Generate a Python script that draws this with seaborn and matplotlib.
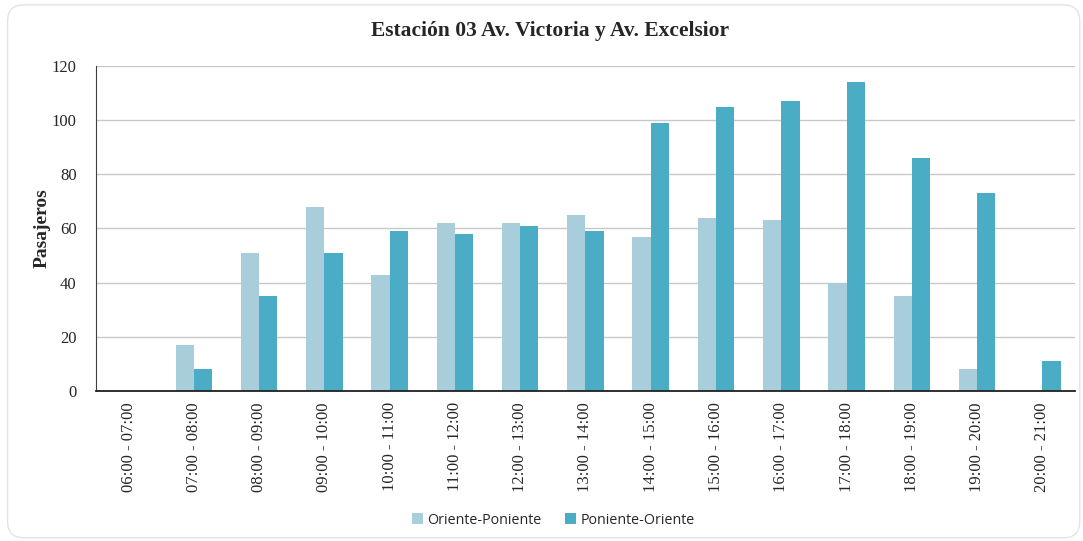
import pandas as pd
import matplotlib.pyplot as plt
import seaborn as sns
from matplotlib.patches import FancyBboxPatch

# Datos de la estación
horarios = ['06:00 - 07:00', '07:00 - 08:00', '08:00 - 09:00', '09:00 - 10:00',
            '10:00 - 11:00', '11:00 - 12:00', '12:00 - 13:00', '13:00 - 14:00',
            '14:00 - 15:00', '15:00 - 16:00', '16:00 - 17:00', '17:00 - 18:00',
            '18:00 - 19:00', '19:00 - 20:00', '20:00 - 21:00']
oriente_poniente = [0, 17, 51, 68, 43, 62, 62, 65, 57, 64, 63, 40, 35, 8, 0]
poniente_oriente = [0, 8, 35, 51, 59, 58, 61, 59, 99, 105, 107, 114, 86, 73, 11]
sentidos = ['Oriente-Poniente', 'Poniente-Oriente']
colores = ['#A8CEDC', '#4BACC6']

df = pd.DataFrame({
    'horario': horarios * 2,
    'sentido': [sentidos[0]] * len(horarios) + [sentidos[1]] * len(horarios),
    'pasajeros': oriente_poniente + poniente_oriente,
})

sns.set_style('white')
plt.rcParams['font.family'] = ['Liberation Serif', 'DejaVu Serif']

fig = plt.figure(figsize=(10.83, 5.41), dpi=100)
ax = fig.add_axes([0.0886, 0.2773, 0.904, 0.6007])

# borde redondeado de la figura
fig.patches.append(FancyBboxPatch((0.007, 0.006), 0.99, 0.985,
                                  boxstyle='round,pad=0,rounding_size=0.015',
                                  transform=fig.transFigure, fill=False,
                                  edgecolor='#E3E3E3', linewidth=1.0,
                                  mutation_aspect=2.0))

sns.barplot(data=df, x='horario', y='pasajeros', hue='sentido',
            palette=colores, width=0.56, gap=0, saturation=1, linewidth=0,
            order=horarios, hue_order=sentidos, ax=ax, legend=True)

ax.set_ylim(0, 120)
ax.set_yticks(range(0, 121, 20))
ax.set_xlim(-0.5, len(horarios) - 0.5)
ax.yaxis.grid(True, color='#C8C8C8', linewidth=1)
ax.set_axisbelow(True)
for lado in ['top', 'right']:
    ax.spines[lado].set_visible(False)
ax.spines['left'].set_color('#404040')
ax.spines['bottom'].set_color('#202020')
ax.spines['bottom'].set_linewidth(1.3)
ax.tick_params(axis='x', rotation=90, labelsize=12, length=0, pad=8)
ax.tick_params(axis='y', labelsize=12, length=0, pad=14)
ax.set_xlabel('')
ax.set_ylabel('Pasajeros', fontsize=14, fontweight='bold', labelpad=1)

fig.text(0.508, 0.942, 'Estación 03 Av. Victoria y Av. Excelsior', fontsize=15.5,
         fontweight='bold', ha='center', va='center')

ax.legend(loc='upper center', bbox_to_anchor=(0.467, -0.335), ncol=2,
          frameon=False, prop={'family': 'Open Sans', 'size': 10.3},
          handlelength=0.8, handleheight=0.8, handletextpad=0.3,
          columnspacing=1.6)

fig.savefig('out.png', dpi=100)
